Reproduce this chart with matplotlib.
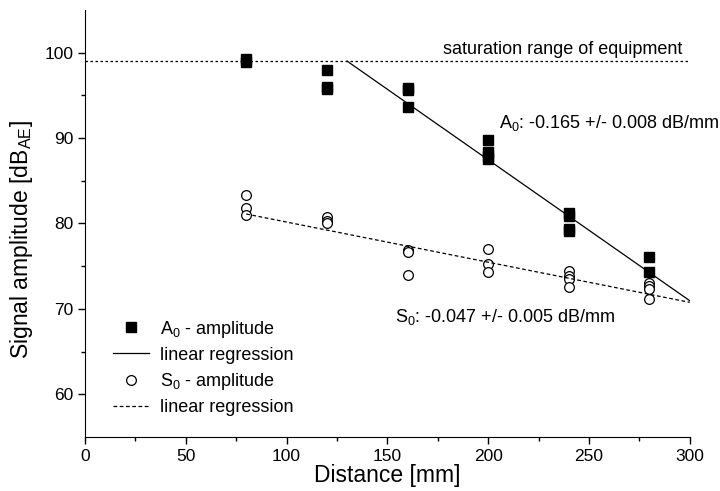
import numpy as np
import matplotlib
matplotlib.use("Agg")
import matplotlib.pyplot as plt

plt.rcParams["font.family"] = ["Liberation Sans", "DejaVu Sans"]
plt.rcParams["mathtext.fontset"] = "custom"
plt.rcParams["mathtext.rm"] = "Liberation Sans"

# A0 mode amplitudes (filled squares)
a0_x = [80, 80, 120, 120, 120, 160, 160, 160, 200, 200, 200, 200,
        240, 240, 240, 240, 280, 280]
a0_y = [99.3, 98.9, 98.0, 96.0, 95.7, 95.9, 95.6, 93.6, 89.8, 88.4, 87.9, 87.5,
        81.2, 80.9, 79.4, 79.1, 76.1, 74.3]

# S0 mode amplitudes (open circles)
s0_x = [80, 80, 80, 120, 120, 120, 160, 160, 160, 200, 200, 200,
        240, 240, 240, 240, 280, 280, 280, 280]
s0_y = [83.3, 81.8, 81.0, 80.8, 80.3, 80.0, 76.9, 76.6, 74.0, 77.0, 75.2, 74.3,
        74.4, 73.9, 73.5, 72.5, 73.0, 72.7, 72.3, 71.2]

# regression fits
a0_slope, a0_icpt = -0.165, 120.45
s0_slope, s0_icpt = -0.047, 84.86
a0_fit_x = [130, 300]
s0_fit_x = [80, 300]

saturation = 99.0

fig = plt.figure(figsize=(7.2, 4.91), dpi=100)
ax = fig.add_axes([0.118, 0.110, 0.840, 0.870])

ax.axhline(saturation, color="black", lw=0.9, ls=(0, (2, 2)))
ax.text(296.5, saturation + 0.4, "saturation range of equipment",
        ha="right", va="bottom", fontsize=13)

ax.plot(a0_x, a0_y, "s", color="black", ms=6.5, label=r"A$\mathregular{_0}$ - amplitude")
fx = np.array(a0_fit_x)
ax.plot(fx, a0_slope * fx + a0_icpt, "-", color="black", lw=0.9, label="linear regression")
ax.plot(s0_x, s0_y, "o", mfc="white", mec="black", mew=0.9, ms=7,
        label=r"S$\mathregular{_0}$ - amplitude")
fx = np.array(s0_fit_x)
ax.plot(fx, s0_slope * fx + s0_icpt, color="black", lw=0.9, ls=(0, (3, 2)),
        label="linear regression")

ax.text(205.5, 91.8, r"A$\mathregular{_0}$: -0.165 +/- 0.008 dB/mm", fontsize=13, va="center")
ax.text(154, 69.0, r"S$\mathregular{_0}$: -0.047 +/- 0.005 dB/mm", fontsize=13, va="center")

ax.set_xlim(0, 300)
ax.set_ylim(55, 105)
ax.set_xticks(range(0, 301, 50))
ax.set_xticks(range(25, 300, 50), minor=True)
ax.set_yticks(range(60, 101, 10))
ax.set_yticks(range(65, 101, 10), minor=True)
ax.spines["top"].set_visible(False)
ax.spines["right"].set_visible(False)
ax.tick_params(which="major", length=5, width=1, labelsize=12.5)
ax.tick_params(which="minor", length=3, width=1)

ax.set_xlabel("Distance [mm]", fontsize=16.5, labelpad=0)
ax.set_ylabel(r"Signal amplitude [dB$\mathregular{_{AE}}$]", fontsize=16.5)
ax.yaxis.set_label_coords(-0.083, 0.461)

ax.legend(loc="upper left", bbox_to_anchor=(0.022, 0.311), frameon=False,
          fontsize=13, handlelength=2.0, labelspacing=0.4, handletextpad=0.6,
          borderpad=0.3)

fig.savefig("out.png", dpi=100)
